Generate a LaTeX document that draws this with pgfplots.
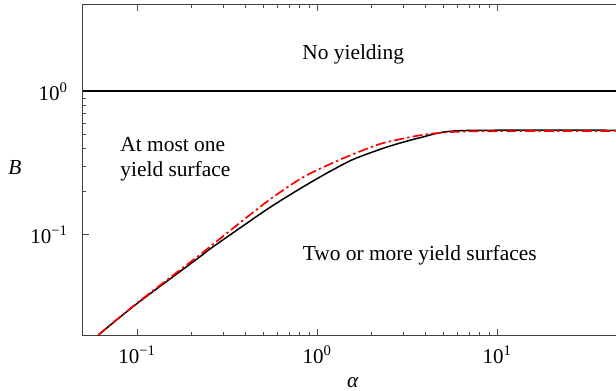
\documentclass[border=0pt]{standalone}
\usepackage{fontspec}
\setmainfont{Liberation Serif}
\usepackage{pgfplots}
\pgfplotsset{compat=1.18}
\pgfplotstableread{
a b
0.0608 0.02
0.1 0.0332
0.224 0.0705
0.255 0.080
0.525 0.150
0.805 0.21
1.15 0.272
1.59 0.336
2.44 0.409
3.73 0.475
6.23 0.532
50 0.535
}\blackcurve
\pgfplotstableread{
a b
0.0608 0.02
0.1 0.0335
0.224 0.0728
0.255 0.083
0.525 0.170
0.84 0.253
1.34 0.334
2.24 0.430
3.73 0.494
5.25 0.518
8 0.527
50 0.53
}\redcurve
\begin{document}
\begin{tikzpicture}
\begin{axis}[
  name=ax,
  scale only axis,
  width=270pt, height=165pt,
  xmode=log, ymode=log,
  xmin=0.05, xmax=50, ymin=0.02, ymax=4,
  font=\rmfamily\fontsize{10.7pt}{12.5pt}\selectfont,
  tick align=inside,
  major tick length=2.8pt,
  minor tick length=1.6pt,
  axis line style={black!75, line width=0.5pt},
  every tick/.style={black!70, line width=0.4pt},
  xtick={0.1,1,10},
  xticklabels={10\textsuperscript{−1},10\textsuperscript{0},10\textsuperscript{1}},
  ytick={0.1,1},
  yticklabels={10\textsuperscript{−1},10\textsuperscript{0}},
  ticklabel style={font=\rmfamily\fontsize{10.5pt}{11pt}\selectfont},
  xticklabel style={yshift=-2pt},
  yticklabel style={xshift=-4pt},
  xlabel={\textit{α}},
  ylabel={\textit{B}},
  every axis x label/.style={at={(axis description cs:0.5,0)},anchor=center,yshift=-24pt},
  every axis y label/.style={at={(axis description cs:0,0.506)},anchor=center,xshift=-34pt},
  clip=true,
]
\addplot[black, line width=1pt, forget plot] coordinates {(0.05,1) (50,1)};
\addplot[black, line width=0.75pt, smooth, tension=0.4] table[x=a,y=b] {\blackcurve};
\addplot[red, line width=0.85pt, smooth, tension=0.4, dash pattern=on 5pt off 1.6pt on 1.2pt off 1.6pt] table[x=a,y=b] {\redcurve};
\node[anchor=center] at (axis cs:1.585,1.80) {No yielding};
\node[anchor=center, align=left] at (axis cs:0.163,0.335) {At most one\\yield surface};
\node[anchor=center] at (axis cs:3.71,0.0715) {Two or more yield surfaces};
\end{axis}
\pgfresetboundingbox
\path[use as bounding box] (ax.south west) ++(-41.5pt,-28pt) rectangle ++(308pt,195.5pt);
\end{tikzpicture}
\end{document}
